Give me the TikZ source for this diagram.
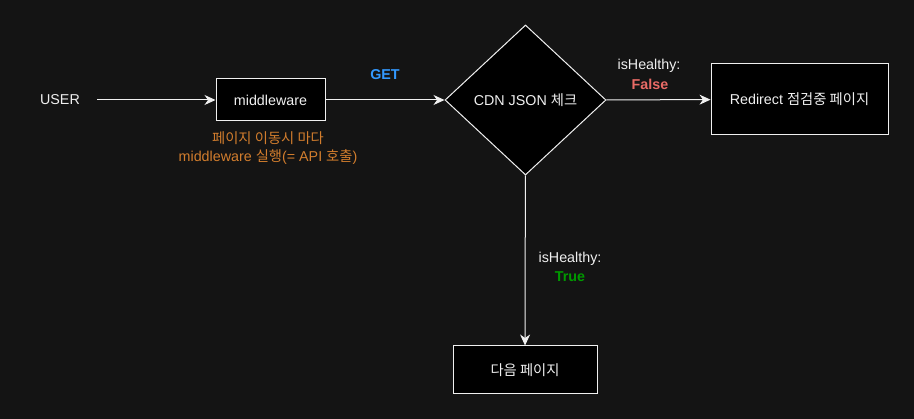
\documentclass[tikz,border=0pt]{standalone}
\usepackage{fontspec}
\setmainfont{Liberation Sans}
\newfontfamily\kr{Noto Sans CJK KR}
\usetikzlibrary{arrows.meta,shapes.geometric}
\definecolor{bgdark}{HTML}{141414}
\definecolor{lineclr}{HTML}{F0F0F0}
\definecolor{getblue}{HTML}{3399FF}
\definecolor{falsered}{HTML}{EA6B66}
\definecolor{truegreen}{HTML}{009900}
\definecolor{noteorange}{HTML}{D27D2D}

\tikzset{
  box/.style={draw=lineclr,fill=black,text=lineclr,line width=1pt,inner sep=0pt},
  check/.style={diamond,draw=lineclr,fill=black,text=lineclr,line width=1pt,inner sep=0pt,
    minimum width=161pt,minimum height=150pt},
  flow/.style={draw=lineclr,line width=1pt,-{Stealth[length=11pt,width=10pt,inset=3.5pt]}},
  lbl/.style={text=lineclr,inner sep=0pt,align=center},
  boldlbl/.style={lbl,font=\fontsize{14.3}{18}\selectfont\bfseries}
}

\begin{document}
\begin{tikzpicture}[x=1pt,y=-1pt,font=\fontsize{14.3}{18}\selectfont]
\fill[bgdark] (0,0) rectangle (914,419);
\useasboundingbox (0,0) rectangle (914,419);

\node[lbl] (user) at (60,100) {USER};
\coordinate (userend) at (97,100);
\node[box,minimum width=109pt,minimum height=42pt] (mw) at (270.5,100) {middleware};
\node[check] (cdn) at (525.5,100) {CDN JSON {\kr 체크}};
\node[box,minimum width=177pt,minimum height=71pt] (redirect) at (799.5,99.5) {Redirect {\kr 점검중 페이지}};
\node[box,minimum width=144pt,minimum height=48pt] (next) at (525,370) {{\kr 다음 페이지}};

\draw[flow] (userend) -- (mw);
\draw[flow] (mw) -- (cdn);
\draw[flow] (cdn) -- (redirect);
\draw[flow] (cdn) -- (next);

% labels
\node[boldlbl,text=getblue] (get) at (385,75) {GET};
\node[lbl] (falsetxt) at (649,66) {isHealthy:};
\node[boldlbl,text=falsered] (falseval) at (650,84) {False};
\node[lbl] (truetxt) at (570,259) {isHealthy:};
\node[boldlbl,text=truegreen] (trueval) at (570,277) {True};
\node[lbl,text=noteorange] (note1) at (268,138) {{\kr 페이지 이동시 마다}};
\node[lbl,text=noteorange] (note2) at (268,157) {middleware {\kr 실행}(= API {\kr 호출})};
\end{tikzpicture}
\end{document}
